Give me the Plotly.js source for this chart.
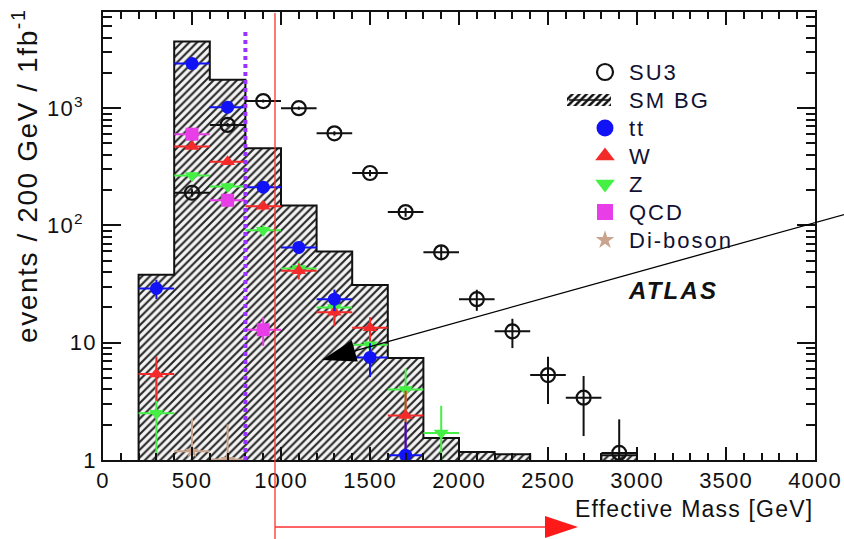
<!DOCTYPE html>
<html>
<head>
<meta charset="utf-8">
<script src="https://cdn.plot.ly/plotly-3.0.1.min.js"></script>
<style>
  html, body { margin: 0; padding: 0; background: #ffffff; }
  #chart { width: 844px; height: 539px; }
  /* wide ROOT-style lettering (unscoped so Plotly's text measuring sees it too) */
  .xtick text, .ytick text { letter-spacing: 1.2px; }
  text.annotation-text[style*="font-size: 22px"] { letter-spacing: 2px; }
  text.annotation-text[style*="font-size: 23px"] { letter-spacing: 1.2px; }
  text.annotation-text[style*="font-size: 24px"] { letter-spacing: 2.2px; }
  text.annotation-text[style*="font-size: 28px"] { letter-spacing: 1.6px; }
</style>
</head>
<body>
<div id="chart"></div>
<script>
// Effective mass distributions, events / 200 GeV / 1 fb^-1
const binWidth = 200;

// Standard Model background (hatched histogram), bin centres and contents
const bgCenters = [300, 500, 700, 900, 1100, 1300, 1500, 1700, 1900, 2100, 2300, 2900];
const bgValues  = [38, 3700, 1750, 455, 148, 60, 31, 7.4, 1.54, 1.17, 1.12, 1.1];

// SU3 signal point
const su3X   = [500, 700, 900, 1100, 1300, 1500, 1700, 1900, 2100, 2300, 2500, 2700, 2900];
const su3Y   = [190, 720, 1150, 1000, 610, 280, 130, 59, 23.5, 12.5, 5.3, 3.4, 1.15];
const su3Err = [13.8, 26.8, 33.9, 31.6, 24.7, 16.7, 11.4, 7.7, 4.8, 3.5, 2.3, 1.8, 1.07];

// ttbar
const ttX   = [300, 500, 700, 900, 1100, 1300, 1500, 1700];
const ttY   = [29, 2400, 1020, 212, 65, 23.5, 7.5, 1.1];
const ttErr = [5.4, 49, 32, 14.5, 8, 4.9, 2.4, 1.0];

// W + jets
const wX   = [300, 500, 700, 900, 1100, 1300, 1500, 1700];
const wY   = [5.4, 470, 350, 146, 41, 18.2, 13.4, 2.4];
const wErr = [2.2, 21, 19, 12, 6.4, 4.3, 3.1, 1.5];

// Z + jets
const zX   = [300, 500, 700, 900, 1100, 1300, 1500, 1700, 1900];
const zY   = [2.5, 267, 215, 91, 43, 20, 9.6, 4.0, 1.7];
const zErr = [2.1, 16, 15, 9.5, 6.6, 4.5, 3.1, 2.0, 1.2];

// QCD multijet
const qcdX   = [500, 700, 900];
const qcdY   = [600, 164, 12.9];
const qcdErr = [24, 13, 3.5];

// Di-boson
const dibX   = [500, 700];
const dibY   = [1.19, 1.01];
const dibErr = [1.05, 1.0];

// Cut position on effective mass [GeV]
const cutMass = 800;

// Axis tick labels (power labels sit a little further from the axis)
const yTickVals = [1, 10, 100, 1000];
const yTickText = ['1', '10', '10<sup>2</sup>\u00a0\u2009', '10<sup>3</sup>\u00a0\u2009'];

// Legend entries, top to bottom
const legendLabels = ['SU3', 'SM BG', 'tt', 'W', 'Z', 'QCD', 'Di-boson'];

// ---------------------------------------------------------------
const FONT = 'Liberation Sans, Arial, Helvetica, sans-serif';

const C = {
  su3: '#111111', tt: '#1212f6', w: '#f42a2a', z: '#44f044', qcd: '#e83ee8', dib: '#c9a38c'
};

// Step outline of the background histogram (breaks between non-adjacent bins)
function stepOutline(centers, values, width) {
  const xs = [], ys = [];
  let prevHi = null;
  for (let i = 0; i < centers.length; i++) {
    const lo = centers[i] - width / 2, hi = centers[i] + width / 2;
    if (prevHi === null || Math.abs(lo - prevHi) > 1e-6) {
      if (prevHi !== null) { xs.push(prevHi, null); ys.push(1, null); }
      xs.push(lo); ys.push(1);
    }
    xs.push(lo); ys.push(values[i]);
    xs.push(hi); ys.push(values[i]);
    prevHi = hi;
  }
  xs.push(prevHi); ys.push(1);
  return { xs, ys };
}
const outline = stepOutline(bgCenters, bgValues, binWidth);

function errX(color) {
  return { type: 'constant', value: binWidth / 2, width: 0, thickness: 2, color: color };
}
function errY(arr, color) {
  return { type: 'data', array: arr, visible: true, width: 0, thickness: 2, color: color };
}

const hatch = { shape: '/', fgcolor: '#262626', bgcolor: '#f4f4f4', size: 5.5, solidity: 0.38 };

// marker styles in the plot
const markers = {
  'SU3':      { symbol: 'circle-open', size: 14, color: C.su3, line: { width: 2.2, color: C.su3 } },
  'tt':       { symbol: 'circle', size: 13, color: C.tt },
  'W':        { symbol: 'triangle-up', size: 13, color: C.w },
  'Z':        { symbol: 'triangle-down', size: 13, color: C.z },
  'QCD':      { symbol: 'square', size: 13, color: C.qcd },
  'Di-boson': { symbol: 'star', size: 11, color: C.dib }
};
// slightly larger versions for the legend key
const keyMarkers = {
  'SU3':      { symbol: 'circle-open', size: 16, color: C.su3, line: { width: 2.2, color: C.su3 } },
  'tt':       { symbol: 'circle', size: 17, color: C.tt },
  'W':        { symbol: 'triangle-up', size: 17, color: C.w },
  'Z':        { symbol: 'triangle-down', size: 17, color: C.z },
  'QCD':      { symbol: 'square', size: 16, color: C.qcd },
  'Di-boson': { symbol: 'star', size: 14, color: C.dib }
};

const traces = [
  {
    type: 'bar', name: 'SM BG', x: bgCenters, y: bgValues, width: binWidth,
    marker: { color: '#ffffff', line: { width: 0 }, pattern: hatch }
  },
  {
    type: 'scatter', mode: 'lines', x: outline.xs, y: outline.ys,
    line: { color: '#111111', width: 2 }, hoverinfo: 'skip', connectgaps: false
  },
  {
    type: 'scatter', mode: 'markers', name: 'Di-boson', x: dibX, y: dibY,
    marker: markers['Di-boson'], error_x: errX(C.dib), error_y: errY(dibErr, C.dib)
  },
  {
    type: 'scatter', mode: 'markers', name: 'Z', x: zX, y: zY,
    marker: markers['Z'], error_x: errX(C.z), error_y: errY(zErr, C.z)
  },
  {
    type: 'scatter', mode: 'markers', name: 'W', x: wX, y: wY,
    marker: markers['W'], error_x: errX(C.w), error_y: errY(wErr, C.w)
  },
  {
    type: 'scatter', mode: 'markers', name: 'QCD', x: qcdX, y: qcdY,
    marker: markers['QCD'], error_x: errX(C.qcd), error_y: errY(qcdErr, C.qcd)
  },
  {
    type: 'scatter', mode: 'markers', name: 'tt', x: ttX, y: ttY,
    marker: markers['tt'], error_x: errX(C.tt), error_y: errY(ttErr, C.tt)
  },
  {
    type: 'scatter', mode: 'markers', name: 'SU3', x: su3X, y: su3Y,
    marker: markers['SU3'], error_x: errX(C.su3), error_y: errY(su3Err, C.su3)
  }
];

// pixel frame of the plot area (x: 103..815, y: 12..460)
const PL = 103, PR = 815, PT = 12, PB = 460;
const px = v => (v - PL) / (PR - PL);
const py = v => (PB - v) / (PB - PT);

// Legend key drawn on a hidden overlay in pixel units
const keyX = 605, textX = 627, keyTop = 72, keyStep = 28;
const keyY = legendLabels.map((_, i) => keyTop + i * keyStep);
legendLabels.forEach((name, i) => {
  if (name === 'SM BG') {
    traces.push({
      type: 'bar', x: [keyX - 16], y: [-12], base: [keyY[i] + 6], width: 44,
      xaxis: 'x2', yaxis: 'y2',
      marker: { color: '#ffffff', line: { width: 0 },
                pattern: { shape: '/', fgcolor: '#111111', bgcolor: '#ffffff', size: 5, solidity: 0.5 } },
      hoverinfo: 'skip'
    });
  } else {
    traces.push({
      type: 'scatter', mode: 'markers', x: [keyX], y: [keyY[i]], xaxis: 'x2', yaxis: 'y2',
      marker: keyMarkers[name], cliponaxis: false, hoverinfo: 'skip'
    });
  }
});

// arrow pointing into the background histogram
const tip = [322, 360], tail = [846, 214];
const dx = tail[0] - tip[0], dy = tail[1] - tip[1];
const len = Math.hypot(dx, dy), ux = dx / len, uy = dy / len;
const headLen = 34, headHalf = 11;
const base = [tip[0] + ux * headLen, tip[1] + uy * headLen];
const c1 = [base[0] - uy * headHalf, base[1] + ux * headHalf];
const c2 = [base[0] + uy * headHalf, base[1] - ux * headHalf];

const minorY = [];
for (let d = 1; d <= 1000; d *= 10) for (let k = 2; k <= 9; k++) if (k * d < 6700) minorY.push(k * d);

const annotations = [
  {
    xref: 'paper', yref: 'paper', x: 1, y: py(509), xanchor: 'right', yanchor: 'middle',
    text: 'Effective Mass [GeV]', showarrow: false,
    font: { family: FONT, size: 23, color: '#111111' }
  },
  {
    xref: 'paper', yref: 'paper', x: px(25), y: py(7), xanchor: 'center', yanchor: 'top',
    text: 'events / 200 GeV / 1fb<sup>-1</sup>', textangle: -90, showarrow: false,
    font: { family: FONT, size: 28, color: '#111111' }
  },
  {
    xref: 'paper', yref: 'paper', x: px(626), y: py(290), xanchor: 'left', yanchor: 'middle',
    text: '<b><i>ATLAS</i></b>', showarrow: false,
    font: { family: FONT, size: 24, color: '#111111' }
  }
];
legendLabels.forEach((name, i) => {
  annotations.push({
    xref: 'x2', yref: 'y2', x: textX, y: keyY[i], xanchor: 'left', yanchor: 'middle',
    text: name, showarrow: false,
    font: { family: FONT, size: 22, color: '#111133' }
  });
});

const layout = {
  width: 844, height: 539,
  margin: { l: PL, r: 844 - PR, t: PT, b: 539 - PB, pad: 0 },
  paper_bgcolor: '#ffffff', plot_bgcolor: '#ffffff',
  font: { family: FONT, color: '#111111', size: 22 },
  showlegend: false,
  barmode: 'overlay', bargap: 0,
  xaxis: {
    range: [0, 4000], showgrid: false, zeroline: false,
    showline: true, linecolor: '#111111', linewidth: 2, mirror: 'allticks',
    ticks: 'inside', tickcolor: '#111111', ticklen: 13, tickwidth: 2,
    tickmode: 'linear', tick0: 0, dtick: 500,
    tickfont: { family: FONT, size: 22, color: '#111111' },
    minor: { ticks: 'inside', dtick: 100, ticklen: 7, tickwidth: 2, tickcolor: '#111111', showgrid: false }
  },
  yaxis: {
    type: 'log', range: [0, 3.82], showgrid: false, zeroline: false,
    showline: true, linecolor: '#111111', linewidth: 2, mirror: 'allticks',
    ticks: 'inside', tickcolor: '#111111', ticklen: 18, tickwidth: 2,
    tickmode: 'array', tickvals: yTickVals, ticktext: yTickText,
    tickfont: { family: FONT, size: 22, color: '#111111' },
    minor: { ticks: 'inside', tickmode: 'array', tickvals: minorY, ticklen: 9, tickwidth: 2, tickcolor: '#111111', showgrid: false }
  },
  // pixel-unit overlay used for the legend key
  xaxis2: { overlaying: 'x', anchor: 'y2', range: [PL, PR], visible: false, fixedrange: true },
  yaxis2: { overlaying: 'y', anchor: 'x2', range: [PB, PT], visible: false, fixedrange: true },
  annotations: annotations,
  shapes: [
    // analysis cut
    {
      type: 'line', xref: 'x', yref: 'paper', x0: cutMass, x1: cutMass, y0: 0, y1: py(28),
      line: { color: '#9933ff', width: 4, dash: '4px,4px' }
    },
    // red marker line and arrow
    {
      type: 'line', xref: 'paper', yref: 'paper', x0: px(275), x1: px(275), y0: py(13), y1: py(545),
      line: { color: '#ff3030', width: 1.3 }
    },
    {
      type: 'line', xref: 'paper', yref: 'paper', x0: px(275), x1: px(548), y0: py(527), y1: py(527),
      line: { color: '#ff3030', width: 1.3 }
    },
    {
      type: 'path', xref: 'paper', yref: 'paper',
      path: `M ${px(578)} ${py(527)} L ${px(545)} ${py(516)} L ${px(545)} ${py(538)} Z`,
      fillcolor: '#ff1a1a', line: { width: 0 }
    },
    // black arrow
    {
      type: 'line', xref: 'paper', yref: 'paper', x0: px(tail[0]), y0: py(tail[1]), x1: px(base[0]), y1: py(base[1]),
      line: { color: '#000000', width: 1.3 }
    },
    {
      type: 'path', xref: 'paper', yref: 'paper',
      path: `M ${px(tip[0])} ${py(tip[1])} L ${px(c1[0])} ${py(c1[1])} L ${px(c2[0])} ${py(c2[1])} Z`,
      fillcolor: '#000000', line: { width: 0 }
    },
    // stroke through the hatched legend key
    {
      type: 'line', xref: 'x2', yref: 'y2', x0: keyX - 36, x1: keyX + 5, y0: keyY[1], y1: keyY[1],
      line: { color: '#111111', width: 1.5 }
    }
  ]
};

Plotly.newPlot('chart', traces, layout, { displayModeBar: false, staticPlot: true });
</script>
</body>
</html>
